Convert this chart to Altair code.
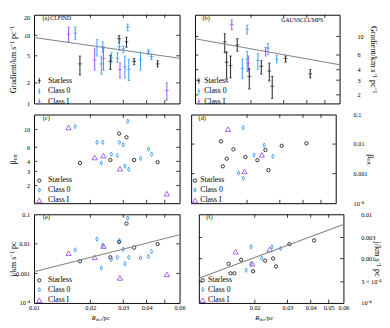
import altair as alt
import pandas as pd

FONT = "Liberation Serif"
classes = ["Starless", "Class 0", "Class I"]
colors = ["#1a1a1a", "#3399ff", "#9b4ff0"]
code_names = {"S": "Starless", "0": "Class 0", "I": "Class I"}

R_clf = [0.0153, 0.0166, 0.0176, 0.0211, 0.0217, 0.0229, 0.0233, 0.0235, 0.0256, 0.0259,
         0.0279, 0.0285, 0.0286, 0.0288, 0.0300, 0.0312, 0.0306, 0.0317, 0.0321, 0.0343,
         0.0371, 0.0409, 0.0425, 0.0458, 0.0513]
cls_clf = ["I", "0", "S", "I", "0", "0", "0", "I", "S", "0",
           "0", "S", "0", "I", "0", "S", "0", "0", "0", "S",
           "0", "0", "0", "S", "I"]
grad_clf = [10.4, 10.8, 3.8, 4.37, 6.8, 3.8, 6.8, 4.57, 4.15, 4.7,
            4.6, 8.9, 6.8, 3.15, 6.3, 8.0, 3.43, 13.2, 3.15, 4.15,
            4.37, 5.7, 4.87, 3.8, 1.55]
lo_clf = [8.0, 8.64, 2.62, 3.08, 4.96, 2.68, 5.63, 3.08, 3.15, 4.02,
          4.02, 7.75, 6.0, 2.36, 5.53, 6.7, 2.36, 11.6, 2.17, 3.69,
          3.08, 5.24, 4.37, 3.43, 1.12]
hi_clf = [13.2, 13.2, 4.96, 6.28, 8.64, 4.96, 8.0, 6.48, 5.08, 5.53,
          5.53, 9.9, 8.27, 3.93, 6.98, 9.38, 4.96, 14.6, 4.47, 4.57,
          5.63, 6.14, 5.24, 4.23, 2.01]
beta_clf = [10.6, 10.9, 3.81, 4.47, 6.93, 3.81, 6.93, 4.72, 4.16, 4.9,
            4.72, 8.9, 6.93, 3.24, 6.45, 8.0, 3.49, 12.7, 3.18, 4.16,
            4.35, 5.7, 4.9, 3.9, 1.58]
j_clf = [0.00484, 0.00622, 0.00259, 0.00349, 0.0145, 0.00153, 0.00906, 0.0084, 0.00349, 0.00294,
         0.00349, 0.0116, 0.0129, 0.000705, 0.00654, 0.0484, 0.00212, 0.074, 0.00349, 0.0074,
         0.00333, 0.00376, 0.00547, 0.0098, 0.00093]

R_gc = [0.01446, 0.0148, 0.01554, 0.01578, 0.01688, 0.01798, 0.01908, 0.0191, 0.01937, 0.01959,
        0.0218, 0.02274, 0.0240, 0.02473, 0.0251, 0.02604, 0.02754, 0.03073, 0.04171]
cls_gc = ["S", "S", "S", "I", "S", "0", "0", "0", "I", "S",
          "0", "S", "I", "0", "S", "S", "0", "S", "S"]
grad_gc = [8.6, 4.92, 4.5, 13.9, 7.9, 4.14, 12.2, 5.36, 4.79, 3.33,
           5.2, 4.4, 6.65, 7.26, 3.86, 2.54, 5.36, 5.46, 3.57]
lo_gc = [6.38, 3.11, 3.19, 12.0, 6.65, 3.13, 10.7, 3.79, 3.86, 2.35,
         4.06, 3.54, 5.84, 6.1, 2.93, 1.82, 4.83, 4.92, 3.19]
hi_gc = [10.9, 6.55, 5.84, 15.8, 9.42, 5.36, 13.65, 6.65, 5.84, 4.14,
         6.22, 5.13, 7.38, 8.27, 4.79, 3.33, 5.95, 5.84, 4.03]
beta_gc = [0.01233, 0.00177, 0.00321, 0.0319, 0.00662, 0.00105, 0.0361, 0.000703, 0.00119, 0.00365,
           0.00424, 0.00285, 0.00433, 0.00914, 0.00629, 0.00131, 0.00384, 0.00875, 0.0106]
j_gc = [0.000764, 0.000465, 0.000465, 0.00143, 0.000946, 0.000547, 0.00184, 0.000764, 0.000764, 0.00052,
        0.00103, 0.000901, 0.00161, 0.00184, 0.00101, 0.000668, 0.00169, 0.00213, 0.00257]

fit_R = [0.01, 0.06]
fit_a = [9.3, 4.6]
fit_b = [9.42, 4.59]
fit_e = [0.00113, 0.0202]
fit_f = [0.000361, 0.0059]

x_domain = [0.01, 0.06]
x_inner = [0.02, 0.03, 0.04, 0.05]
xe_vals = [0.01, 0.02, 0.03, 0.04, 0.06]
xe_labs = ["0.01", "0.02", "0.03", "0.04", "0.06"]
xf_vals = [0.02, 0.03, 0.04, 0.05, 0.06]
xf_labs = ["0.02", "0.03", "0.04", "0.05", "0.06"]

ya_dom, ya_vals, ya_labs = [1, 20], [1, 2, 5, 10, 20], ["1", "2", "5", "10", "20"]
yb_dom, yb_vals, yb_labs = [1.58, 18.2], [2, 3, 4, 6, 10], ["2", "3", "4", "6", "10"]
yc_dom, yc_vals, yc_labs = [1.2, 15.4], [2, 3, 4, 6, 10], ["2", "3", "4", "6", "10"]
yd_dom, yd_vals, yd_labs = [1e-4, 0.1], [1e-4, 1e-3, 1e-2, 0.1], ["10⁻⁴", "0.001", "0.01", "0.1"]
ye_dom, ye_vals, ye_labs = [1e-4, 0.1], [1e-4, 1e-3, 1e-2, 0.1], ["10⁻⁴", "0.001", "0.01", "0.1"]
yf_dom, yf_vals, yf_labs = [1e-4, 0.01], [1e-4, 3e-4, 1e-3, 3e-3, 1e-2], ["10⁻⁴", "3 × 10⁻⁴", "0.001", "0.003", "0.01"]

W_L, W_R, H = 151, 150, 92
TL = 3.5
LEFT_TX = -22.0
RIGHT_TX = 35.5


def lab_expr(vals, labs):
    e = "''"
    for v, l in zip(vals, labs):
        e = f"abs(datum.value/{v} - 1) < 0.01 ? '{l}' : " + e
    return e


def xs():
    return alt.Scale(type="log", domain=x_domain, nice=False)


def ysc(dom):
    return alt.Scale(type="log", domain=dom, nice=False)


def x_axis(vals, labs):
    return alt.Axis(values=vals, labelExpr=lab_expr(vals, labs), orient="bottom", title=None,
                    labelPadding=1.5, labelFlush=False)


def y_axis(side, vals, labs, title, top_flush=False):
    kw = dict(values=vals, labelExpr=lab_expr(vals, labs), orient=side, title=title,
              labelPadding=4.5 if side == "left" else 18,
              titleAngle=-90 if side == "left" else 90, titleBaseline="middle",
              titleX=LEFT_TX if side == "left" else RIGHT_TX, titleY=H / 2)
    if top_flush:
        kw["labelBaseline"] = {"condition": {"test": "datum.value > 15", "value": "top"}, "value": "middle"}
    return alt.Axis(**kw)


class P:
    """Shared x / y encodings of one panel (identical axis in every layer)."""

    def __init__(self, dom, xaxis, yaxis):
        self.dom, self.xaxis, self.yaxis = dom, xaxis, yaxis

    def X(self, f):
        return alt.X(f, scale=xs(), axis=self.xaxis, title=None)

    def Y(self, f):
        return alt.Y(f, scale=ysc(self.dom), axis=self.yaxis)


def tick_layers(p, inner_y, W):
    xdf = pd.DataFrame({"tx": x_inner})
    ydf = pd.DataFrame({"ty": inner_y})
    m = dict(color="black", strokeWidth=0.8)
    return [
        alt.Chart(xdf).mark_rule(**m).encode(x=p.X("tx:Q"), y=alt.value(0), y2=alt.value(TL)),
        alt.Chart(xdf).mark_rule(**m).encode(x=p.X("tx:Q"), y=alt.value(H - TL), y2=alt.value(H)),
        alt.Chart(ydf).mark_rule(**m).encode(y=p.Y("ty:Q"), x=alt.value(0), x2=alt.value(TL)),
        alt.Chart(ydf).mark_rule(**m).encode(y=p.Y("ty:Q"), x=alt.value(W - TL), x2=alt.value(W)),
    ]


def legend(right, errbar):
    kw = dict(orient="none", legendX=0 if right else 1.5, legendY=H - 27.5, title=None,
              padding=0, rowPadding=0.8, labelFontSize=8, labelFont=FONT, labelColor="black",
              labelOffset=1.5 if right else 5, symbolStrokeWidth=0.9)
    if errbar:
        kw["symbolType"] = "M0,-1L0,1M-0.45,0L0.45,0"
        kw["symbolSize"] = 36
    else:
        kw["symbolSize"] = 20
    return alt.Legend(**kw)


def text(t, x, y, size, align="left", style="normal"):
    return alt.Chart(pd.DataFrame({"t": [t]})).mark_text(
        font=FONT, fontSize=size, align=align, baseline="alphabetic", color="black", fontStyle=style
    ).encode(x=alt.value(x), y=alt.value(y), text="t:N")


def xtitle(x0):
    return [text("R", x0, H + 17.5, 6.8, style="italic"),
            text("dec", x0 + 4.3, H + 18.8, 4.3),
            text("/pc", x0 + 10.2, H + 17.5, 6.8)]


def fit_layer(p, fit_y):
    return alt.Chart(pd.DataFrame({"fx": fit_R, "fy": fit_y})).mark_line(
        color="#858585", strokeWidth=1.1).encode(x=p.X("fx:Q"), y=p.Y("fy:Q"))


def err_panel(R, cls, g, lo, hi, fit_y, dom, yaxis, inner_y, W, right, extra):
    p = P(dom, None, yaxis)
    df = pd.DataFrame({"R": R, "cls": [code_names[c] for c in cls], "g": g, "lo": lo, "hi": hi})
    cs = alt.Scale(domain=classes, range=colors)
    base = alt.Chart(df)
    col = alt.Color("cls:N", scale=cs, legend=None)
    bars = base.mark_rule(strokeWidth=1).encode(
        x=p.X("R:Q"), y=p.Y("lo:Q"), y2="hi:Q",
        color=alt.Color("cls:N", scale=cs, legend=legend(right, True)))
    cap_lo = base.mark_tick(orient="horizontal", size=2.5, thickness=1).encode(
        x=p.X("R:Q"), y=p.Y("lo:Q"), color=col)
    cap_hi = base.mark_tick(orient="horizontal", size=2.5, thickness=1).encode(
        x=p.X("R:Q"), y=p.Y("hi:Q"), color=col)
    cen = base.mark_tick(orient="horizontal", size=4, thickness=1).encode(
        x=p.X("R:Q"), y=p.Y("g:Q"), color=col)
    layers = [bars, fit_layer(p, fit_y), cap_lo, cap_hi, cen] + tick_layers(p, inner_y, W) + extra
    return alt.layer(*layers).properties(width=W, height=H)


def pt_panel(R, cls, v, fit_y, dom, yaxis, xaxis, inner_y, W, right, extra):
    p = P(dom, xaxis, yaxis)
    df = pd.DataFrame({"R": R, "cls": [code_names[c] for c in cls], "v": v})
    pts = alt.Chart(df).mark_point(filled=False, strokeWidth=0.9, opacity=1).encode(
        x=p.X("R:Q"), y=p.Y("v:Q"),
        color=alt.Color("cls:N", scale=alt.Scale(domain=classes, range=colors), legend=legend(right, False)),
        shape=alt.Shape("cls:N", scale=alt.Scale(domain=classes,
                        range=["circle", "M0,-1L0.55,0L0,1L-0.55,0Z", "triangle-up"]),
                        legend=legend(right, False)),
        size=alt.Size("cls:N", scale=alt.Scale(domain=classes, range=[12, 30, 16]), legend=None),
    )
    layers = [pts]
    if fit_y is not None:
        layers.append(fit_layer(p, fit_y))
    layers += tick_layers(p, inner_y, W) + extra
    return alt.layer(*layers).properties(width=W, height=H)


GT = "Gradient/km s⁻¹ pc⁻¹"
BT = "βᵣₒₜ"
JT = "j/km s⁻¹ pc"

pa = err_panel(R_clf, cls_clf, grad_clf, lo_clf, hi_clf, fit_a, ya_dom,
               y_axis("left", ya_vals, ya_labs, GT, top_flush=True), [2, 5, 10], W_L, False,
               [text("(a)", 8.7, 5.5, 6.5), text("CLFIND", 16.9, 5.5, 6)])
pb = err_panel(R_gc, cls_gc, grad_gc, lo_gc, hi_gc, fit_b, yb_dom,
               y_axis("right", yb_vals, yb_labs, GT), [2, 3, 4, 6, 10], W_R, True,
               [text("(b)", 7.7, 5.5, 6.5), text("GAUSSCLUMPS", W_R - 17, 7, 6, align="right")])
pc = pt_panel(R_clf, cls_clf, beta_clf, None, yc_dom,
              y_axis("left", yc_vals, yc_labs, BT), None, [2, 3, 4, 6, 10], W_L, False,
              [text("(c)", 9.3, 5.5, 6.5)])
pd_ = pt_panel(R_gc, cls_gc, beta_gc, None, yd_dom,
               y_axis("right", yd_vals, yd_labs, BT), None, [1e-3, 1e-2], W_R, True,
               [text("(d)", 7.7, 5.5, 6.5)])
pe = pt_panel(R_clf, cls_clf, j_clf, fit_e, ye_dom,
              y_axis("left", ye_vals, ye_labs, JT), x_axis(xe_vals, xe_labs), [1e-3, 1e-2], W_L, False,
              [text("(e)", 9.3, 5.0, 6.5)] + xtitle(60))
pf = pt_panel(R_gc, cls_gc, j_gc, fit_f, yf_dom,
              y_axis("right", yf_vals, yf_labs, JT), x_axis(xf_vals, xf_labs), [3e-4, 1e-3, 3e-3], W_R, True,
              [text("(f)", 7.7, 5.0, 6.5)] + xtitle(58.5))

res = dict(color="independent", shape="independent", size="independent")
row1 = alt.hconcat(pa, pb, spacing=10).resolve_scale(**res).resolve_legend(**res)
row2 = alt.hconcat(pc, pd_, spacing=10).resolve_scale(**res).resolve_legend(**res)
row3 = alt.hconcat(pe, pf, spacing=10).resolve_scale(**res).resolve_legend(**res)

chart = alt.vconcat(row1, row2, row3, spacing=3.5).properties(
    padding=0, background="white"
).resolve_scale(**res).resolve_legend(**res).configure_view(
    stroke="black", strokeWidth=1
).configure_axis(
    labelFont=FONT, titleFont=FONT, labelColor="black", titleColor="black",
    titleFontWeight="normal", labelFontSize=6.5, titleFontSize=8.5,
    ticks=False, domain=False, grid=False, labelOverlap=False
).configure_legend(
    labelFont=FONT, labelColor="black", labelFontSize=8
)

chart.save("out.html", embed_options={"renderer": "svg", "actions": False})
